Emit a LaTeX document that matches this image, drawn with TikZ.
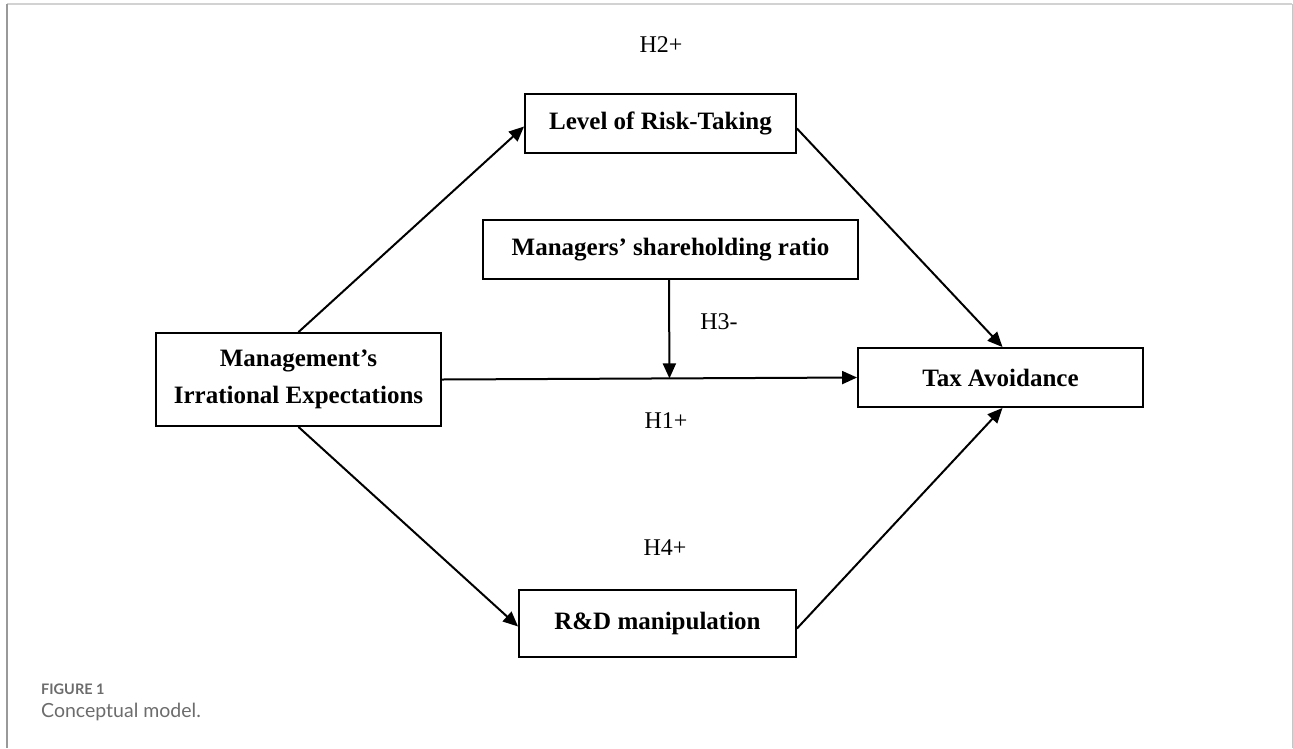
\documentclass[tikz,border=0pt]{standalone}
\usepackage{fontspec}
\setmainfont{Liberation Serif}
\newfontfamily\capfont{Lato}
\usepackage{tikz}
\usetikzlibrary{arrows.meta, positioning, calc}

\begin{document}
\begin{tikzpicture}[
  x=1pt, y=-1pt,
  font=\fontsize{25}{37}\selectfont,
  caja/.style={rectangle, draw=black, line width=1.9pt, fill=white,
               inner sep=2pt, align=center, font=\fontsize{25}{37}\selectfont\bfseries},
  fl/.style={-{Triangle[length=15pt, width=13pt]}, line width=2pt, black},
  hipo/.style={font=\fontsize{24}{28}\selectfont, inner sep=0pt},
  pie/.style={text=gray!85!black, anchor=base west, inner sep=0pt}
]
\useasboundingbox (0,0) rectangle (1293,748);
% ---- Marco ----
\draw[gray!35, line width=1.2pt] (7,4) -- (1292,4);
\draw[gray!80, line width=1.4pt] (7,4) -- (7,748);
\draw[gray!45, line width=1pt] (1292,4) -- (1292,748);

% ---- Variables ----
\node[caja, minimum width=285pt, minimum height=93pt] (expect) at (298.5,379.5)
  {Management’s\\Irrational Expectations};
\node[caja, minimum width=271pt, minimum height=59pt] (risk) at (660.5,123.5) {Level of Risk-Taking};
\node[caja, minimum width=375pt, minimum height=59pt] (share) at (670.5,249.5) {Managers’ shareholding ratio};
\node[caja, minimum width=285pt, minimum height=59pt] (tax) at (1000.5,377.5) {Tax Avoidance};
\node[caja, minimum width=277pt, minimum height=67pt] (rd) at (657.5,623.5) {R\&D manipulation};

% ---- Relaciones ----
\draw[fl] (expect.north) -- ([yshift=-3pt]risk.west);
\draw[fl] ([yshift=-5pt]risk.east) -- ([xshift=2pt]tax.north);
\draw[fl] (expect.east) -- (tax.west);
\coordinate (mod) at ($(expect.east)!(share.south)!(tax.west)$);
\draw[fl] ([xshift=-1.5pt]share.south) -- ([xshift=-1.5pt]mod);
\draw[fl] (expect.south) -- ([yshift=-3pt]rd.west);
\draw[fl] ([yshift=-5pt]rd.east) -- ([xshift=2pt]tax.south);

% ---- Hipotesis ----
\node[hipo] (h2) at (661,45) {H2+};
\node[hipo] (h3) at (719,322) {H3-};
\node[hipo] (h1) at (666,421) {H1+};
\node[hipo] (h4) at (665,548) {H4+};

% ---- Pie ----
\node[pie, font=\capfont\bfseries\fontsize{14.5}{16}\selectfont] (fig) at (41,694) {FIGURE 1};
\node[pie, font=\capfont\fontsize{19.5}{22}\selectfont] (cap) at (41,717) {Conceptual model.};
\end{tikzpicture}
\end{document}
